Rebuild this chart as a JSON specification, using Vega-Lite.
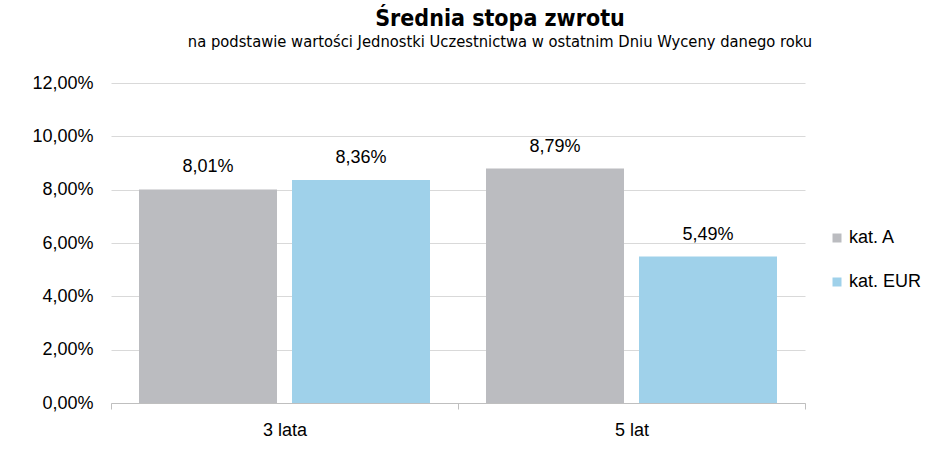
{
  "$schema": "https://vega.github.io/schema/vega-lite/v6.json",
  "width": 694,
  "height": 320,
  "autosize": {"type": "none"},
  "padding": {"left": 111, "top": 83, "right": 141, "bottom": 56},
  "background": "white",
  "title": {
    "text": "Średnia stopa zwrotu",
    "subtitle": "na podstawie wartości Jednostki Uczestnictwa w ostatnim Dniu Wyceny danego roku",
    "anchor": "middle",
    "dx": 42,
    "offset": 24,
    "font": "DejaVu Sans Condensed",
    "fontSize": 23,
    "fontWeight": "bold",
    "color": "black",
    "subtitleFont": "DejaVu Sans Condensed",
    "subtitleFontSize": 16.4,
    "subtitleColor": "black",
    "subtitlePadding": 3
  },
  "data": {
    "values": [
      {"okres": "3 lata", "kategoria": "kat. A", "wartosc": 0.0801},
      {"okres": "3 lata", "kategoria": "kat. EUR", "wartosc": 0.0836},
      {"okres": "5 lat", "kategoria": "kat. A", "wartosc": 0.0879},
      {"okres": "5 lat", "kategoria": "kat. EUR", "wartosc": 0.0549}
    ]
  },
  "encoding": {
    "x": {
      "field": "okres",
      "type": "nominal",
      "sort": null,
      "title": null,
      "scale": {"paddingInner": 0, "paddingOuter": 0},
      "axis": {
        "labelAngle": 0,
        "labelFont": "Liberation Sans",
        "labelFontSize": 18,
        "labelColor": "black",
        "labelPadding": 12,
        "domainColor": "#bfbfbf",
        "tickColor": "#bfbfbf",
        "tickSize": 6,
        "tickBand": "extent",
        "grid": false
      }
    },
    "xOffset": {
      "field": "kategoria",
      "type": "nominal",
      "scale": {"paddingInner": 0.098, "paddingOuter": 0.183}
    },
    "y": {
      "field": "wartosc",
      "type": "quantitative",
      "title": null,
      "scale": {"domain": [0, 0.12], "nice": false},
      "axis": {
        "format": ".2%",
        "values": [0, 0.02, 0.04, 0.06, 0.08, 0.1, 0.12],
        "labelFont": "Liberation Sans",
        "labelFontSize": 18,
        "labelColor": "black",
        "labelPadding": 18,
        "domain": false,
        "ticks": false,
        "grid": true,
        "gridColor": "#d9d9d9"
      }
    }
  },
  "layer": [
    {
      "mark": {"type": "bar"},
      "encoding": {
        "color": {
          "field": "kategoria",
          "type": "nominal",
          "scale": {"domain": ["kat. A", "kat. EUR"], "range": ["#bbbcc0", "#9fd1ea"]},
          "legend": {
            "title": null,
            "orient": "none",
            "legendX": 717,
            "legendY": 146,
            "symbolType": "square",
            "symbolSize": 81,
            "symbolStrokeWidth": 0,
            "symbolOpacity": 1,
            "labelFont": "Liberation Sans",
            "labelFontSize": 18,
            "labelColor": "black",
            "labelOffset": 3,
            "rowPadding": 26
          }
        }
      }
    },
    {
      "mark": {
        "type": "text",
        "baseline": "middle",
        "dy": -22,
        "font": "Liberation Sans",
        "fontSize": 18,
        "color": "black"
      },
      "encoding": {
        "text": {"field": "wartosc", "type": "quantitative", "format": ".2%"}
      }
    }
  ],
  "config": {
    "locale": {
      "number": {"decimal": ",", "thousands": " ", "grouping": [3], "currency": ["", " zł"]}
    },
    "view": {"stroke": null}
  }
}
